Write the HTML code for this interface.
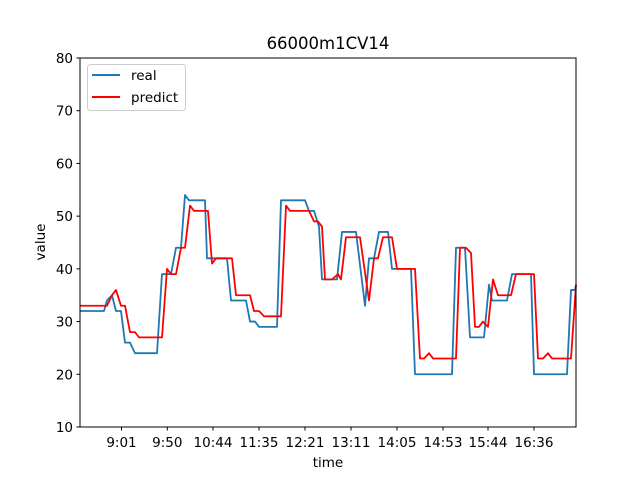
<!DOCTYPE html>
<html><head><meta charset="utf-8"><style>
body{margin:0;background:#fff;}
svg{display:block;font-family:"DejaVu Sans","Liberation Sans",sans-serif;}
</style></head><body>
<svg id="chart" width="640" height="480">
<rect width="640" height="480" fill="#fff"/>
<text x="328" y="49" font-size="16.5" text-anchor="middle">66000m1CV14</text>
<g id="plot"></g>
<rect x="80" y="58" width="496" height="369" fill="none" stroke="#000" stroke-width="1"/>
<text x="328" y="467" font-size="13.5" text-anchor="middle">time</text>
<text transform="translate(45,242) rotate(-90)" font-size="13.5" text-anchor="middle">value</text>
<g>
<rect x="87.5" y="64.5" width="98" height="46" rx="3" fill="#fff" fill-opacity="0.8" stroke="#ccc"/>
<line x1="92" y1="75" x2="120" y2="75" stroke="#1f77b4" stroke-width="2"/>
<text x="131" y="80" font-size="13.5">real</text>
<line x1="92" y1="97" x2="120" y2="97" stroke="#ff0000" stroke-width="2"/>
<text x="131" y="102" font-size="13.5">predict</text>
</g>
</svg>
<script>
const realX=[0,24,27,32,36,41,45,50,55,77,82,91,96,101,105,109,125,127,133,147,151,166,170,175,179,197,201,225,229,234,239,242,257,262,276,285,289,294,299,308,312,331,335,372,376,385,390,404,409,412,427,432,451,454,487,491,495,496];
const realY=[32,32,34,35,32,32,26,26,24,24,39,39,44,44,54,53,53,42,42,42,34,34,30,30,29,29,53,53,51,51,48,38,38,47,47,33,42,42,47,47,40,40,20,20,44,44,27,27,37,34,34,39,39,20,20,36,36,37];
const predX=[0,27,32,36,41,45,50,55,59,82,87,91,96,101,105,110,114,128,132,136,152,156,170,174,179,184,201,206,210,229,234,238,242,245,248,252,258,261,266,280,289,294,298,303,312,317,335,340,344,349,353,376,380,386,391,395,399,403,408,413,418,431,436,454,458,463,468,472,491,496];
const predY=[33,33,35,36,33,33,28,28,27,27,40,39,39,44,44,52,51,51,41,42,42,35,35,32,32,31,31,52,51,51,49,49,48,38,38,38,39,38,46,46,34,42,42,46,46,40,40,23,23,24,23,23,44,44,43,29,29,30,29,38,35,35,39,39,23,23,24,23,23,37];
const yTicks=[10,20,30,40,50,60,70,80];
const xTickVals=[41.5,87.3,133,179,225,271,317,363,408,454];
const xTickLabels=["9:01","9:50","10:44","11:35","12:21","13:11","14:05","14:53","15:44","16:36"];
const L=80,R=576,T=58,B=427,xMin=0,xMax=496,yMin=10,yMax=80;
const sx=v=>L+(v-xMin)/(xMax-xMin)*(R-L);
const sy=v=>B-(v-yMin)/(yMax-yMin)*(B-T);
const NS="http://www.w3.org/2000/svg";
const plot=document.getElementById('plot');
function mk(t,a){const e=document.createElementNS(NS,t);for(const k in a)e.setAttribute(k,a[k]);return e;}
yTicks.forEach(v=>{
 const l=mk('line',{x1:L-3.5,x2:L,y1:sy(v),y2:sy(v),stroke:'#000'});
 
 
 plot.appendChild(l);
 const t=mk('text',{x:L-7,y:sy(v)+5,'font-size':13.5,'text-anchor':'end'});
 
 
 t.textContent=v;plot.appendChild(t);
});
xTickVals.forEach((v,i)=>{
 const l=mk('line',{x1:sx(v),x2:sx(v),y1:B,y2:B+3.5,stroke:'#000'});
 
 
 plot.appendChild(l);
 const t=mk('text',{x:sx(v),y:B+20,'font-size':13.5,'text-anchor':'middle'});
 
 
 t.textContent=xTickLabels[i];plot.appendChild(t);
});
function line(xs,ys,c,name){
 const p=mk('polyline',{points:xs.map((x,i)=>sx(x)+','+sy(ys[i])).join(' '),fill:'none',stroke:c,'stroke-width':1.8,'stroke-linejoin':'round'});
 
 
 plot.appendChild(p);
}
line(realX,realY,'#1f77b4','real-line');
line(predX,predY,'#ff0000','predict-line');
</script>
</body></html>
